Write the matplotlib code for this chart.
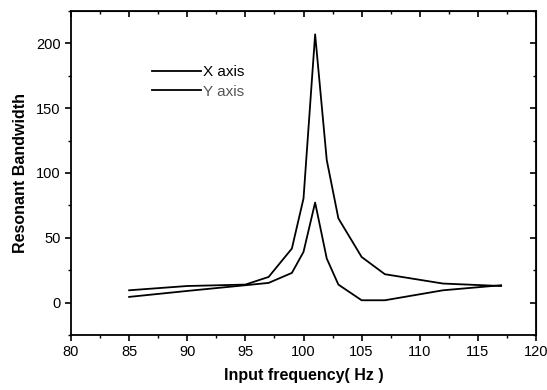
import matplotlib
matplotlib.use("Agg")
import matplotlib.pyplot as plt
from matplotlib.ticker import MultipleLocator

freq_x = [85, 90, 95, 97, 99, 100, 101, 102, 103, 105, 107, 112, 117]
x_axis = [9.5, 12.8, 13.9, 19.8, 41.7, 80.3, 207, 110, 65, 35.2, 21.9, 14.7, 12.8]
freq_y = [85, 90, 95, 97, 99, 100, 101, 102, 103, 105, 107, 112, 117]
y_axis = [4.4, 9.0, 13.4, 15.2, 22.9, 39.1, 77.2, 34, 13.9, 1.8, 1.8, 9.5, 13.4]

plt.rcParams['font.family'] = ['Liberation Sans', 'DejaVu Sans']

fig = plt.figure(figsize=(5.47, 3.90), dpi=100)
ax = fig.add_axes([71/547, 55/390, 465/547, 324/390])

ax.plot(freq_x, x_axis, color='black', lw=1.3, label='X axis')
ax.plot(freq_y, y_axis, color='black', lw=1.3, label='Y axis')

ax.set_xlim(80, 120)
ax.set_ylim(-25, 225)
ax.xaxis.set_major_locator(MultipleLocator(5))
ax.xaxis.set_minor_locator(MultipleLocator(2.5))
ax.yaxis.set_major_locator(MultipleLocator(50))
ax.yaxis.set_minor_locator(MultipleLocator(25))
ax.set_yticks([0, 50, 100, 150, 200])

ax.tick_params(axis='both', which='both', direction='out', top=False, right=False, labelsize=10.5)
ax.tick_params(which='major', length=4, width=1.2)
ax.tick_params(which='minor', length=2.5, width=1.0)
for s in ax.spines.values():
    s.set_linewidth(1.3)

# inward ticks on top and right
sec_x = ax.secondary_xaxis('top')
sec_x.xaxis.set_major_locator(MultipleLocator(5))
sec_x.xaxis.set_minor_locator(MultipleLocator(2.5))
sec_x.tick_params(which='both', direction='in', labeltop=False)
sec_x.tick_params(which='major', length=4, width=1.2)
sec_x.tick_params(which='minor', length=2.5, width=1.0)
sec_y = ax.secondary_yaxis('right')
sec_y.yaxis.set_major_locator(MultipleLocator(50))
sec_y.yaxis.set_minor_locator(MultipleLocator(25))
sec_y.tick_params(which='both', direction='in', labelright=False)
sec_y.tick_params(which='major', length=4, width=1.2)
sec_y.tick_params(which='minor', length=2.5, width=1.0)

ax.set_xlabel('Input frequency( Hz )', fontsize=11.5, fontweight='bold', labelpad=6)
ax.set_ylabel('Resonant Bandwidth', fontsize=11.5, fontweight='bold', labelpad=6)

leg = ax.legend(loc='upper left', bbox_to_anchor=(0.145, 0.875), frameon=False,
                fontsize=11, handlelength=3.2, handletextpad=0.1, labelspacing=0.35)
leg.get_texts()[1].set_color('#555555')

fig.savefig('out.png', dpi=100)
